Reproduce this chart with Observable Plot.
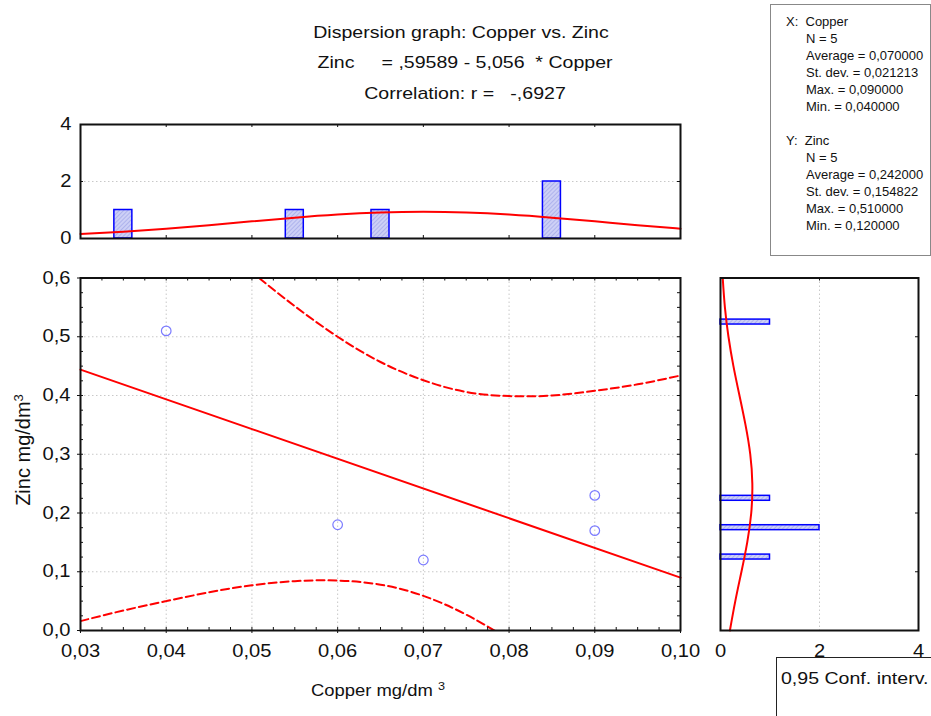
<!DOCTYPE html>
<html><head><meta charset="utf-8">
<script src="https://cdn.jsdelivr.net/npm/d3@7"></script>
<script src="https://cdn.jsdelivr.net/npm/@observablehq/plot@0.6"></script>
<style>
body{margin:0;background:#fff;font-family:"Liberation Sans",Arial,sans-serif;}
#wrap{position:relative;width:931px;height:716px;overflow:hidden;background:#fff;}
.t{position:absolute;white-space:pre;font-size:17px;color:#111;line-height:1;}
#stats{position:absolute;left:770px;top:4px;width:161px;height:252px;border:1px solid #888;box-sizing:border-box;font-size:13px;color:#111;}
#stats div{position:absolute;white-space:pre;transform:translateY(-50%);line-height:1;}
#legend{position:absolute;left:776px;top:657px;width:170px;height:80px;border:1.5px solid #222;box-sizing:border-box;}
</style></head><body><div id="wrap"></div>
<script>
// ---- data ----
const copper = [0.04, 0.06, 0.07, 0.09, 0.09];
const zinc   = [0.51, 0.18, 0.12, 0.23, 0.17];

const fitX = [0.03, 0.10];
const fitY = [0.444, 0.090];

const bandX     = [0.030,0.035,0.040,0.045,0.050,0.055,0.060,0.065,0.070,0.075,0.080,0.085,0.090,0.095,0.100];
const bandUpper = [0.872,0.804,0.737,0.672,0.610,0.552,0.500,0.457,0.426,0.406,0.399,0.400,0.408,0.419,0.434];
const bandLower = [0.016,0.034,0.050,0.065,0.077,0.084,0.085,0.078,0.059,0.027,-0.016,-0.068,-0.126,-0.188,-0.253];

const cuHistBins   = [0.035, 0.055, 0.065, 0.085];
const cuHistCounts = [1, 1, 1, 2];
const cuNormX = [0.030,0.035,0.040,0.045,0.050,0.055,0.060,0.065,0.070,0.075,0.080,0.085,0.090,0.095,0.100];
const cuNormY = [0.159,0.241,0.346,0.469,0.603,0.732,0.841,0.914,0.940,0.914,0.841,0.732,0.603,0.469,0.346];

const znHistBins   = [0.125, 0.175, 0.225, 0.525];
const znHistCounts = [1, 2, 1, 1];
const znNormY = [0.00,0.05,0.10,0.15,0.20,0.25,0.30,0.35,0.40,0.45,0.50,0.55,0.60];
const znNormX = [0.190,0.299,0.423,0.540,0.621,0.643,0.601,0.505,0.383,0.261,0.161,0.089,0.045];

const xTicks = [0.03,0.04,0.05,0.06,0.07,0.08,0.09,0.10];
const yTicks = [0.0,0.1,0.2,0.3,0.4,0.5,0.6];
const histTicks = [0, 2, 4];

const titleLines = ["Dispersion graph: Copper vs. Zinc", "Zinc     = ,59589 - 5,056  * Copper", "Correlation: r =   -,6927"];
const statsX = ["X:  Copper", "N = 5", "Average = 0,070000", "St. dev. = 0,021213", "Max. = 0,090000", "Min. = 0,040000"];
const statsY = ["Y:  Zinc", "N = 5", "Average = 0,242000", "St. dev. = 0,154822", "Max. = 0,510000", "Min. = 0,120000"];
const legendLabel = "0,95 Conf. interv.";

// ---- helpers ----
const fmt2 = d => d3.format(".2f")(d).replace(".", ",");
const fmt1 = d => d3.format(".1f")(d).replace(".", ",");
const fmt0 = d => String(d);
const FONT = '"Liberation Sans", Arial, sans-serif';
const RED = "#ff0000", BLUE = "#0000ff", GRID = "#c8c8c8";
const K = 1.15; // horizontal stretch of text seen in the reference
const pts = (xs, ys) => xs.map((x, i) => ({x, y: ys[i]}));
const style = {fontSize: "17.5px", fontFamily: FONT, color: "#111", background: "transparent", overflow: "visible"};

function stretch(svg) {
  svg.querySelectorAll("text").forEach(t => {
    const tr = t.getAttribute("transform");
    if (tr) t.setAttribute("transform", tr + ` scale(${K},1)`);
  });
}
function hatch(svg, id) {
  const ns = "http://www.w3.org/2000/svg";
  const defs = document.createElementNS(ns, "defs");
  const p = document.createElementNS(ns, "pattern");
  p.setAttribute("id", id); p.setAttribute("patternUnits", "userSpaceOnUse");
  p.setAttribute("width", "3"); p.setAttribute("height", "3");
  p.setAttribute("patternTransform", "rotate(45)");
  const r = document.createElementNS(ns, "rect");
  r.setAttribute("width", "3"); r.setAttribute("height", "3"); r.setAttribute("fill", "#cdd0f6");
  const l = document.createElementNS(ns, "line");
  l.setAttribute("x1", "0"); l.setAttribute("y1", "0"); l.setAttribute("x2", "0"); l.setAttribute("y2", "3");
  l.setAttribute("stroke", "#9aa0e6"); l.setAttribute("stroke-width", "1.2");
  p.appendChild(r); p.appendChild(l); defs.appendChild(p);
  svg.insertBefore(defs, svg.firstChild);
}

const wrap = document.getElementById("wrap");
function place(el, left, top) { el.style.position = "absolute"; el.style.left = left + "px"; el.style.top = top + "px"; wrap.appendChild(el); }
function text(str, x, y, size, html, extra) {
  const d = document.createElement("div"); d.className = "t";
  if (html) d.innerHTML = str; else d.textContent = str;
  d.style.left = x + "px"; d.style.top = y + "px"; if (size) d.style.fontSize = size + "px";
  d.style.transform = extra || `translate(-50%,-50%) scaleX(${K})`;
  wrap.appendChild(d); return d;
}

// ---- main scatter ----
{
  const FW = 600, FH = 352.5, L = 3;
  const minorX = d3.range(0, 29).map(i => 0.03 + i * 0.0025);
  const minorY = d3.range(0, 25).map(i => i * 0.025);
  const main = Plot.plot({
    width: 700, height: 430, marginLeft: 80, marginRight: 20, marginTop: 27.5, marginBottom: 50,
    x: {domain: [0.03, 0.10]}, y: {domain: [0, 0.6]}, style,
    marks: [
      Plot.ruleX(xTicks.slice(1, -1), {x: d => d, stroke: GRID, strokeDasharray: "1.5,2.5"}),
      Plot.ruleY(yTicks.slice(1, -1), {y: d => d, stroke: GRID, strokeDasharray: "1.5,2.5"}),
      Plot.line(pts(bandX, bandUpper), {x: "x", y: "y", curve: "natural", stroke: RED, strokeWidth: 2, strokeDasharray: "8,4", clip: true}),
      Plot.line(pts(bandX, bandLower), {x: "x", y: "y", curve: "natural", stroke: RED, strokeWidth: 2, strokeDasharray: "8,4", clip: true}),
      Plot.line(pts(fitX, fitY), {x: "x", y: "y", stroke: RED, strokeWidth: 2}),
      Plot.dot(pts(copper, zinc), {x: "x", y: "y", r: 4.8, stroke: "#7b7bff", strokeWidth: 1.2, fill: "none"}),
      Plot.tickX(minorX, {x: d => d, insetBottom: FH - L, stroke: "#111"}),
      Plot.tickX(minorX, {x: d => d, insetTop: FH - L, stroke: "#111"}),
      Plot.tickY(minorY, {y: d => d, insetRight: FW - L, stroke: "#111"}),
      Plot.tickY(minorY, {y: d => d, insetLeft: FW - L, stroke: "#111"}),
      Plot.frame({stroke: "#111", strokeWidth: 2}),
      Plot.axisX({ticks: xTicks, tickFormat: fmt2, tickSize: 3, tickPadding: 11, label: null}),
      Plot.axisY({ticks: yTicks, tickFormat: fmt1, tickSize: 3, tickPadding: 7, label: null})
    ]
  });
  stretch(main);
  place(main, 0, 250);
}

// ---- top histogram (Copper) ----
{
  const FW = 600, FH = 114, L = 3;
  const top = Plot.plot({
    width: 700, height: 150, marginLeft: 80, marginRight: 20, marginTop: 24, marginBottom: 12,
    x: {domain: [0.03, 0.10], axis: null}, y: {domain: [0, 4]}, style,
    marks: [
      Plot.ruleY([2], {y: d => d, stroke: GRID, strokeDasharray: "1.5,2.5"}),
      Plot.rect(cuHistBins.map((c, i) => ({c, n: cuHistCounts[i]})), {x1: d => d.c - 0.00105, x2: d => d.c + 0.00105, y1: 0, y2: "n", fill: "url(#hatchA)", stroke: BLUE, strokeWidth: 1.5}),
      Plot.line(pts(cuNormX, cuNormY), {x: "x", y: "y", curve: "natural", stroke: RED, strokeWidth: 2}),
      Plot.tickX(xTicks.slice(1, -1), {x: d => d, insetBottom: FH - L, stroke: "#111"}),
      Plot.tickX(xTicks.slice(1, -1), {x: d => d, insetTop: FH - L, stroke: "#111"}),
      Plot.tickY([2], {y: d => d, insetRight: FW - L, stroke: "#111"}),
      Plot.tickY([2], {y: d => d, insetLeft: FW - L, stroke: "#111"}),
      Plot.frame({stroke: "#111", strokeWidth: 2}),
      Plot.axisY({ticks: histTicks, tickFormat: fmt0, tickSize: 0, tickPadding: 9, label: null})
    ]
  });
  hatch(top, "hatchA");
  stretch(top);
  place(top, 0, 100);
}

// ---- right histogram (Zinc) ----
{
  const FW = 198, FH = 352.5, L = 3;
  const right = Plot.plot({
    width: 231, height: 430, marginLeft: 20, marginRight: 13, marginTop: 27.5, marginBottom: 50,
    x: {domain: [0, 4]}, y: {domain: [0, 0.6], axis: null}, style,
    marks: [
      Plot.ruleX([2], {x: d => d, stroke: GRID, strokeDasharray: "1.5,2.5"}),
      Plot.rect(znHistBins.map((c, i) => ({c, n: znHistCounts[i]})), {y1: d => d.c - 0.0042, y2: d => d.c + 0.0042, x1: 0, x2: "n", fill: "url(#hatchB)", stroke: BLUE, strokeWidth: 1.5}),
      Plot.line(pts(znNormX, znNormY), {x: "x", y: "y", curve: "natural", stroke: RED, strokeWidth: 2}),
      Plot.tickY(yTicks.slice(1, -1), {y: d => d, insetLeft: FW - L, stroke: "#111"}),
      Plot.tickX([2], {x: d => d, insetBottom: FH - L, stroke: "#111"}),
      Plot.frame({stroke: "#111", strokeWidth: 2}),
      Plot.axisX({ticks: histTicks, tickFormat: fmt0, tickSize: 0, tickPadding: 14, label: null})
    ]
  });
  hatch(right, "hatchB");
  stretch(right);
  place(right, 700, 250);
}

// ---- texts ----
text(titleLines[0], 461, 32);
text(titleLines[1], 465, 62);
text(titleLines[2], 465, 93);
text("Copper mg/dm <sup style='font-size:11px;vertical-align:6px'>3</sup>", 378, 690, 16, true);
text("Zinc mg/dm<sup style='font-size:13px;vertical-align:7px'>3</sup>", 22, 450, 20, true, "translate(-50%,-50%) rotate(-90deg)");

const stats = document.createElement("div"); stats.id = "stats"; wrap.appendChild(stats);
const rows = [...statsX.map((s, i) => [s, i]), ...statsY.map((s, i) => [s, i + 7])];
rows.forEach(([s, i]) => {
  const d = document.createElement("div");
  d.textContent = s;
  d.style.left = ((i === 0 || i === 7) ? 15 : 35) + "px";
  d.style.top = (16 + i * 17) + "px";
  stats.appendChild(d);
});

const lg = document.createElement("div"); lg.id = "legend"; wrap.appendChild(lg);
const lt = text(legendLabel, 781, 678, 17, false, `translateY(-50%) scaleX(${K})`);
lt.style.transformOrigin = "left center";
</script></body></html>
